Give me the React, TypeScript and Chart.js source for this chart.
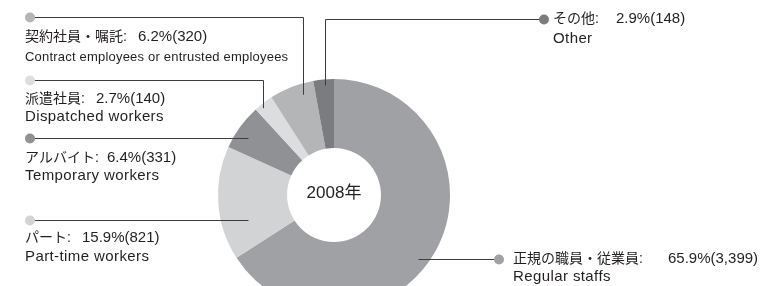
import { useEffect, useRef } from "react";
import { Chart, registerables } from "chart.js";

Chart.register(...registerables);

// ---- data ----
const categoriesJa = ["正規の職員・従業員:", "パート:", "アルバイト:", "派遣社員:", "契約社員・嘱託:", "その他:"];
const categoriesEn = [
  "Regular staffs",
  "Part-time workers",
  "Temporary workers",
  "Dispatched workers",
  "Contract employees or entrusted employees",
  "Other",
];
const counts = [3399, 821, 331, 140, 320, 148];
const percents = [65.9, 15.9, 6.4, 2.7, 6.2, 2.9];
const centerLabel = "2008年";

// ---- styles ----
const sliceColors = ["#a0a1a4", "#d2d3d5", "#909194", "#dcdddf", "#b4b5b7", "#7b7c7f"];
const FONT = '"Liberation Sans", "Noto Sans CJK JP", sans-serif';
const TEXT = "#231f20";

// annotation layout (label positions, leader anchor within slice)
const labelLayout = [
  { dotX: 499, dotY: 259, textX: 513, numX: 668, enY: 277, t: 0.537, r: 106, elbow: false, enSize: 15 },
  { dotX: 30, dotY: 220, textX: 25, numX: 82, jaY: 238, enY: 257, t: 0.29, r: 90, elbow: false, enSize: 15 },
  { dotX: 30, dotY: 138, textX: 25, numX: 107, jaY: 158, enY: 176, t: 0.39, r: 103, elbow: false, enSize: 15 },
  { dotX: 30, dotY: 80, textX: 25, numX: 96, jaY: 99, enY: 117, t: 0.33, r: 112, elbow: true, enSize: 15 },
  { dotX: 30, dotY: 17, textX: 25, numX: 138, jaY: 37, enY: 57, t: 0.69, r: 105, elbow: true, enSize: 13 },
  { dotX: 544, dotY: 19, textX: 553, numX: 616, enY: 39, t: 0.55, r: 110, elbow: true, enSize: 15 },
];

const annotations = {
  id: "annotations",
  afterDraw(chart: any) {
    const ctx = chart.ctx as CanvasRenderingContext2D;
    const meta = chart.getDatasetMeta(0);
    ctx.save();
    // leader lines
    ctx.strokeStyle = "#3c3c3c";
    ctx.lineWidth = 1;
    meta.data.forEach((arc: any, i: number) => {
      const L = labelLayout[i];
      const p = arc.getProps(["x", "y", "startAngle", "endAngle"], true);
      const a = p.startAngle + L.t * (p.endAngle - p.startAngle);
      const ax = Math.round(p.x + L.r * Math.cos(a)) + 0.5;
      const ay = p.y + L.r * Math.sin(a);
      const y0 = Math.round(L.dotY) + 0.5;
      ctx.beginPath();
      ctx.moveTo(L.dotX, y0);
      ctx.lineTo(ax, y0);
      if (L.elbow) ctx.lineTo(ax, ay);
      ctx.stroke();
    });
    // dots
    meta.data.forEach((_arc: any, i: number) => {
      const L = labelLayout[i];
      ctx.fillStyle = sliceColors[i];
      ctx.beginPath();
      ctx.arc(L.dotX, L.dotY + 0.5, 5, 0, Math.PI * 2);
      ctx.fill();
    });
    // texts
    ctx.fillStyle = TEXT;
    ctx.textBaseline = "middle";
    ctx.textAlign = "left";
    categoriesJa.forEach((ja, i) => {
      const L = labelLayout[i];
      const jy = (L as any).jaY ?? L.dotY;
      ctx.font = `14px ${FONT}`;
      (ctx as any).letterSpacing = "0px";
      ctx.fillText(ja, L.textX, jy);
      ctx.font = `15px ${FONT}`;
      const num = `${percents[i].toFixed(1)}%(${counts[i].toLocaleString("en-US")})`;
      ctx.fillText(num, L.numX, jy);
      ctx.font = `${L.enSize}px ${FONT}`;
      (ctx as any).letterSpacing = L.enSize === 13 ? "0.2px" : "0.4px";
      ctx.fillText(categoriesEn[i], L.textX, L.enY);
    });
    (ctx as any).letterSpacing = "0px";
    // center label
    const c = meta.data[0];
    ctx.font = `17px ${FONT}`;
    ctx.textAlign = "center";
    ctx.fillText(centerLabel, c.x, c.y - 2);
    ctx.restore();
  },
};

export default function App() {
  const ref = useRef<HTMLCanvasElement>(null);
  useEffect(() => {
    if (!ref.current) return;
    const chart = new Chart(ref.current, {
      type: "doughnut",
      data: {
        labels: categoriesEn,
        datasets: [
          {
            data: counts,
            backgroundColor: sliceColors,
            borderWidth: 0,
            radius: 116,
            cutout: "40.5%",
          } as any,
        ],
      },
      options: {
        animation: false,
        responsive: false,
        devicePixelRatio: 1,
        layout: { padding: { left: 0, right: 101, top: 0, bottom: 0 } },
        plugins: { legend: { display: false }, tooltip: { enabled: false } },
      },
      plugins: [annotations],
    });
    return () => chart.destroy();
  }, []);
  return (
    <div style={{ position: "absolute", left: 0, top: 0, width: 769, height: 286, overflow: "hidden", background: "#fff" }}>
      <canvas ref={ref} width={769} height={390} style={{ display: "block" }} />
    </div>
  );
}
